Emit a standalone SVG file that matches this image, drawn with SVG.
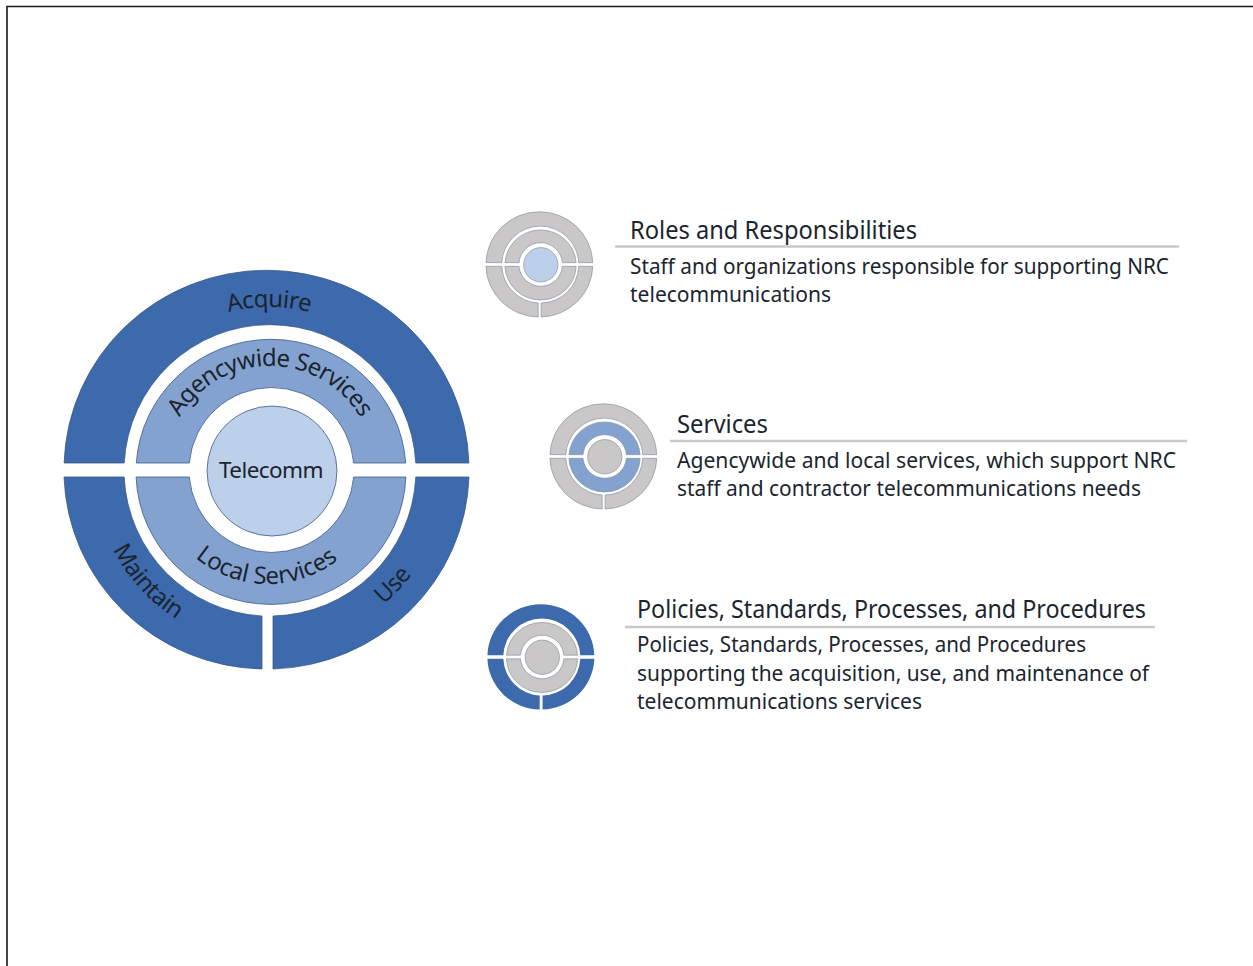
<svg xmlns="http://www.w3.org/2000/svg" width="1253" height="966" viewBox="0 0 1253 966">
<style>
text{font-family:"Noto Sans","Open Sans","Liberation Sans",sans-serif;fill:#1b2530}
.t{font-size:24px;letter-spacing:-.55px}
.h{font-size:25px}
.b{font-size:22.5px}
.c{text-anchor:middle}
.rule{fill:none;stroke:#c9c9c9;stroke-width:2.6}
.main{stroke:#3a5a88;stroke-width:.8}
.icon{stroke:#87939f;stroke-width:2.6}
.dark{fill:#3d69ad}
.mid{fill:#84a2cf}
.light{fill:#bcd0ea}
.grey{fill:#c9c7c7}
</style>
<defs>
<g id="outerRing">
<path d="M64.1 463A202.5 199 0 0 1 468.9 463H415.8A146 146 0 0 0 124.2 463Z"/>
<path d="M469 477A202.5 199 0 0 1 273 669V616A146 146 0 0 0 415.8 477Z"/>
<path d="M64 477A202.5 199 0 0 0 262 669V616A146 146 0 0 1 124.2 477Z"/>
</g>
<g id="midRing">
<path d="M136.3 463A135 132.5 0 0 1 405.7 463H353.7A82.5 82.5 0 0 0 189.3 463Z"/>
<path d="M136.1 477A135 132.5 0 0 0 405.9 477H353.7A82.5 82.5 0 0 1 189.3 477Z"/>
</g>
<circle id="core" cx="272" cy="471" r="65"/>
<path id="pAcq" d="M106 470A163 163 0 0 1 432 470"/>
<path id="pAg" d="M165 471A105 105 0 0 1 375 471"/>
<path id="pLoc" d="M155 471A113 113 0 0 0 381 471"/>
<path id="pOut" d="M94 470A176 176 0 0 0 446 470"/>
</defs>
<path id="frame" d="M7 966V6.500H1253" fill="none" stroke="#1a1a1a" stroke-width="1.600"/>
<g id="main-diagram">
<use href="#outerRing" class="dark main"/>
<use href="#midRing" class="mid main"/>
<use href="#core" class="light main"/>
<text class="t c"><textPath href="#pAcq" startOffset="50%">Acquire</textPath></text>
<text class="t c" style="letter-spacing:-.85px"><textPath href="#pAg" startOffset="50%">Agencywide Services</textPath></text>
<text class="t c" x="271" y="477.500" style="font-size:22.5px">Telecomm</text>
<text class="t c" style="letter-spacing:-.1px"><textPath href="#pLoc" startOffset="49.500%">Local Services</textPath></text>
<text class="t c"><textPath href="#pOut" startOffset="23.500%">Maintain</textPath></text>
<text class="t c"><textPath href="#pOut" startOffset="76%">Use</textPath></text>
</g>
<g id="roles">
<g transform="translate(539.500 264.500) scale(.264) translate(-267 -470)">
<use href="#outerRing" class="grey icon"/><use href="#midRing" class="grey icon"/><use href="#core" class="light icon"/>
</g>
<path class="rule" d="M615 246.500H1179"/>
<text class="h" x="630" y="239" textLength="287" lengthAdjust="spacingAndGlyphs">Roles and Responsibilities</text>
<text class="b" x="630" y="274" textLength="539" lengthAdjust="spacingAndGlyphs">Staff and organizations responsible for supporting NRC</text>
<text class="b" x="630" y="302" textLength="201" lengthAdjust="spacingAndGlyphs">telecommunications</text>
</g>
<g id="services">
<g transform="translate(603.500 456.500) scale(.264) translate(-267 -470)">
<use href="#outerRing" class="grey icon"/><use href="#midRing" class="mid icon"/><use href="#core" class="grey icon"/>
</g>
<path class="rule" d="M670 441H1187"/>
<text class="h" x="677" y="433" textLength="91" lengthAdjust="spacingAndGlyphs">Services</text>
<text class="b" x="677" y="468" textLength="499" lengthAdjust="spacingAndGlyphs">Agencywide and local services, which support NRC</text>
<text class="b" x="677" y="496" textLength="464" lengthAdjust="spacingAndGlyphs">staff and contractor telecommunications needs</text>
</g>
<g id="policies">
<g transform="translate(541 657) scale(.264) translate(-267 -470)">
<use href="#outerRing" class="dark"/><use href="#midRing" class="grey icon"/><use href="#core" class="grey icon"/>
</g>
<path class="rule" d="M625 627H1155"/>
<text class="h" x="637" y="618" textLength="509" lengthAdjust="spacingAndGlyphs">Policies, Standards, Processes, and Procedures</text>
<text class="b" x="637" y="652" textLength="449" lengthAdjust="spacingAndGlyphs">Policies, Standards, Processes, and Procedures</text>
<text class="b" x="637" y="681" textLength="512" lengthAdjust="spacingAndGlyphs">supporting the acquisition, use, and maintenance of</text>
<text class="b" x="637" y="709" textLength="285" lengthAdjust="spacingAndGlyphs">telecommunications services</text>
</g>
</svg>
